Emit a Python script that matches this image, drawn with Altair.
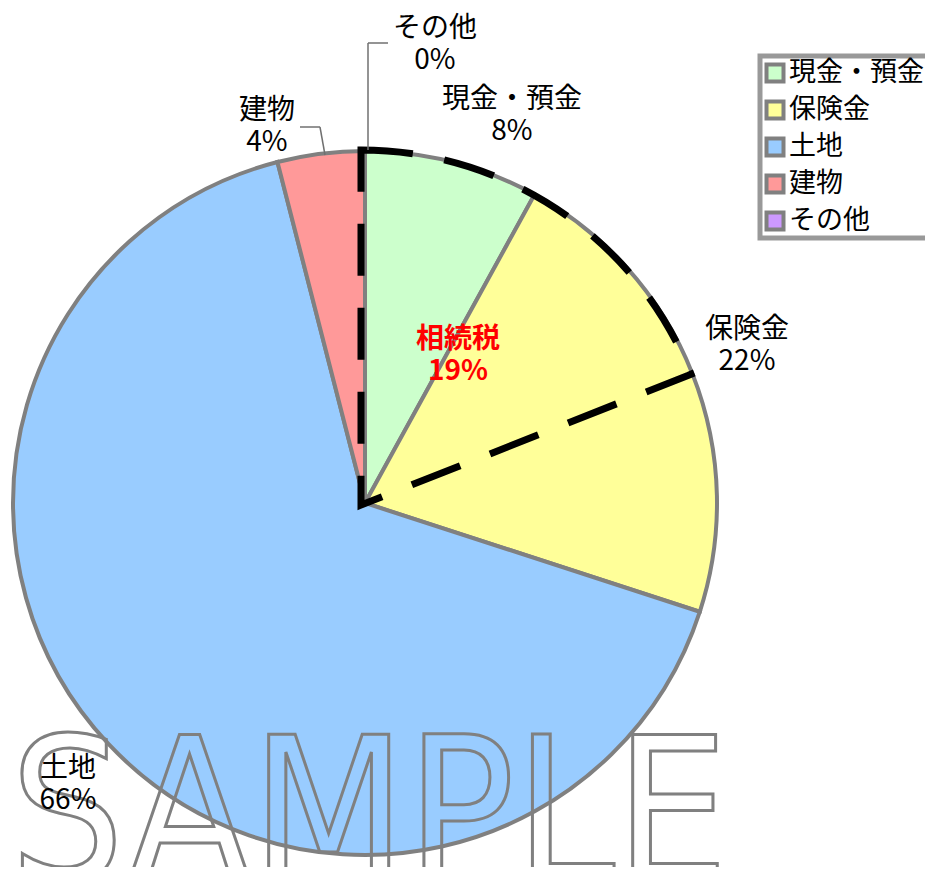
import altair as alt
import pandas as pd

# ---- data ----
categories = ["現金・預金", "保険金", "土地", "建物", "その他"]
values = [8, 22, 66, 4, 0]
colors = ["#ccffcc", "#ffff99", "#99ccff", "#ff9999", "#cc99ff"]
tax_name = "相続税"
tax_share = 19
watermark = "SAMPLE"

# ---- layout ----
W, H = 917, 859
CX, CY, R = 357, 495, 352
FONT = "Noto Sans CJK JP"
FS = 28

df = pd.DataFrame({"cat": categories, "value": values, "order": list(range(len(categories)))})
df["pct"] = [f"{v}%" for v in values]

color_scale = alt.Scale(domain=categories, range=colors)
theta_scale = alt.Scale(domain=[0, 100])

base = alt.Chart(df)

pie = base.mark_arc(outerRadius=R, stroke="#808080", strokeWidth=4).encode(
    theta=alt.Theta("value:Q", stack=True, scale=theta_scale),
    color=alt.Color("cat:N", scale=color_scale, legend=None),
    order=alt.Order("order:Q"),
    x=alt.value(CX),
    y=alt.value(CY),
)

tax_df = pd.DataFrame({"start": [0], "end": [tax_share], "name": [tax_name]})
tax_df["label"] = [f"{tax_share}%"]

wedge = alt.Chart(tax_df).mark_arc(
    outerRadius=R + 3, fill="white", fillOpacity=0, stroke="black",
    strokeWidth=7, strokeDash=[52, 32], strokeJoin="miter", strokeCap="butt"
).encode(
    theta=alt.Theta("start:Q", scale=theta_scale),
    theta2="end:Q",
    x=alt.value(CX - 4),
    y=alt.value(CY + 2),
)

wm = alt.Chart(pd.DataFrame({"t": [watermark]})).mark_text(
    font="DejaVu Sans Condensed, Roboto Condensed, Liberation Sans Narrow, Roboto, sans-serif",
    fontSize=200, align="left", baseline="alphabetic",
    fillOpacity=0, stroke="#808080", strokeWidth=3,
).encode(text="t:N", x=alt.value(2), y=alt.value(872))

# leader lines
one = pd.DataFrame({"k": [0]})
def rule(x1, y1, x2, y2):
    return alt.Chart(one).mark_rule(color="#707070", strokeWidth=1.5).encode(
        x=alt.value(x1), y=alt.value(y1), x2=alt.value(x2), y2=alt.value(y2))

leaders = [
    rule(360, 142, 360, 35), rule(360, 35, 380, 35),
    rule(317, 147, 312, 119), rule(312, 119, 292, 119),
]

label_pos = {
    "現金・預金": (504, 78),
    "保険金": (739, 308),
    "土地": (60, 747),
    "建物": (259, 89),
    "その他": (427, 7),
}

labels = []
for c in categories:
    px, py = label_pos[c]
    labels.append(
        base.transform_filter(alt.datum.cat == c)
        .transform_calculate(lab="datum.cat + '\\n' + datum.pct")
        .mark_text(font=FONT, fontSize=FS, lineBreak="\n", lineHeight=32,
                   align="center", baseline="top", color="black")
        .encode(text="lab:N", x=alt.value(px), y=alt.value(py))
    )

tax_label = alt.Chart(tax_df).transform_calculate(
    lab="datum.name + '\\n' + datum.label"
).mark_text(font=FONT, fontSize=FS, fontWeight="bold", lineBreak="\n", lineHeight=32,
            align="center", baseline="top", color="#ff0000").encode(
    text="lab:N", x=alt.value(450), y=alt.value(318))

# legend (manual)
frame = alt.Chart(one).mark_rect(fill="white", stroke="#999999", strokeWidth=5).encode(
    x=alt.value(752), x2=alt.value(940), y=alt.value(48), y2=alt.value(230))

ly = alt.Y("cat:N", scale=alt.Scale(domain=categories, range=[65, 213], padding=0), axis=None)
leg_sym = base.mark_square(size=289, stroke="#808080", strokeWidth=4, opacity=1, filled=True).encode(
    x=alt.value(767), y=ly, color=alt.Color("cat:N", scale=color_scale, legend=None))
leg_txt = base.mark_text(font=FONT, fontSize=27, align="left", baseline="middle", color="black").encode(
    x=alt.value(781), y=ly, text="cat:N")

chart = alt.layer(pie, wedge, wm, *leaders, *labels, tax_label, frame, leg_sym, leg_txt).properties(
    width=W, height=H, autosize="none", padding=0
).configure_view(stroke=None)

chart.save("out.html", embed_options={"renderer": "svg", "actions": False})
